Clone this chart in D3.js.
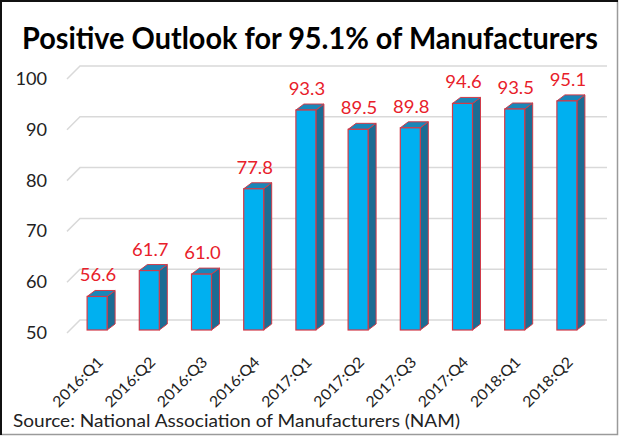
<!DOCTYPE html>
<html><head><meta charset="utf-8">
<script src="https://cdn.jsdelivr.net/npm/d3@7"></script>
<style>body{margin:0;background:#fff}svg{display:block}</style>
</head><body>
<svg id="c" width="620" height="437"></svg>
<script>
const categories = ["2016:Q1","2016:Q2","2016:Q3","2016:Q4","2017:Q1","2017:Q2","2017:Q3","2017:Q4","2018:Q1","2018:Q2"];
const values = [56.6, 61.7, 61.0, 77.8, 93.3, 89.5, 89.8, 94.6, 93.5, 95.1];
const valueLabels = ["56.6","61.7","61.0","77.8","93.3","89.5","89.8","94.6","93.5","95.1"];
const yTicks = [50, 60, 70, 80, 90, 100];
const titleText = "Positive Outlook for 95.1% of Manufacturers";
const sourceText = "Source: National Association of Manufacturers (NAM)";

const svg = d3.select("#c");
const font = "Lato, 'Open Sans', sans-serif";

// frame
svg.append("rect").attr("x",0.5).attr("y",0.5).attr("width",617).attr("height",434)
  .attr("fill","#fff").attr("stroke","#9a9a9a").attr("stroke-width",1.5);
svg.append("line").attr("x1",1).attr("y1",0).attr("x2",1).attr("y2",435).attr("stroke","#111").attr("stroke-width",2);
svg.append("line").attr("x1",0).attr("y1",1).attr("x2",618).attr("y2",1).attr("stroke","#111").attr("stroke-width",2);

const x = d3.scaleBand().domain(categories).range([71, 593]).paddingInner(0.617).paddingOuter(0.3085);
const y = d3.scaleLinear().domain([50, 100]).range([330, 76]);

const dx = 13, dyBack = -13, front = 3;
const depth = 8, depthY = 6;

// gridlines (3D walls)
const grid = svg.append("g");
yTicks.forEach(t => {
  const yf = y(t) + front, yb = y(t) + front + dyBack;
  grid.append("path")
    .attr("d", `M67,${yf}L${67+dx},${yb}L607,${yb}`)
    .attr("fill","none").attr("stroke","#d9d9d9").attr("stroke-width",1.5);
});

// y axis labels
svg.append("g").selectAll("text").data(yTicks).join("text")
  .attr("transform", d => `translate(47,${y(d) + front}) scale(1.1,1)`)
  .attr("dy","0.36em").attr("text-anchor","end")
  .attr("font-family", font).attr("font-size", 16.5).attr("fill","#222")
  .text(d => d);

// bars
const bars = svg.append("g").selectAll("g").data(categories).join("g");
const bw = x.bandwidth();
const outline = "#d23a48";
bars.each(function(c, i) {
  const g = d3.select(this);
  const x0 = x(c), x1 = x0 + bw;
  const yt = y(values[i]), yb = y(50);
  g.append("path").attr("d", `M${x1},${yt}L${x1+depth},${yt-depthY}L${x1+depth},${yb-depthY}L${x1},${yb}Z`)
    .attr("fill","#1c6c93").attr("stroke",outline).attr("stroke-width",1);
  g.append("path").attr("d", `M${x0},${yt}L${x0+depth},${yt-depthY}L${x1+depth},${yt-depthY}L${x1},${yt}Z`)
    .attr("fill","#1a86b8").attr("stroke",outline).attr("stroke-width",1);
  g.append("rect").attr("x",x0).attr("y",yt).attr("width",bw).attr("height",yb-yt)
    .attr("fill","#00b0f0").attr("stroke",outline).attr("stroke-width",1.2);
});

// value labels
svg.append("g").selectAll("text").data(categories).join("text")
  .attr("transform", (c,i) => `translate(${x(c) + bw/2 + 1},${y(values[i]) - depthY - 9}) scale(1.12,1)`)
  .attr("text-anchor","middle")
  .attr("font-family", font).attr("font-size", 16.5).attr("fill","#e8202a")
  .text((c,i) => valueLabels[i]);

// x labels
svg.append("g").selectAll("text").data(categories).join("text")
  .attr("transform", c => `translate(${x(c) + bw/2 + 7},${363}) rotate(-45) scale(1.08,1)`)
  .attr("text-anchor","end")
  .attr("font-family", font).attr("font-size", 15).attr("fill","#222")
  .text(c => c);

// title
svg.append("text").attr("x", 22).attr("y", 49)
  .attr("textLength", 576).attr("lengthAdjust","spacingAndGlyphs")
  .attr("font-family", font).attr("font-weight","bold").attr("font-size", 30).attr("fill","#000")
  .text(titleText);

// source
svg.append("text").attr("x", 13).attr("y", 427)
  .attr("textLength", 447).attr("lengthAdjust","spacingAndGlyphs")
  .attr("font-family", font).attr("font-size", 17).attr("fill","#222")
  .text(sourceText);
</script>
</body></html>
